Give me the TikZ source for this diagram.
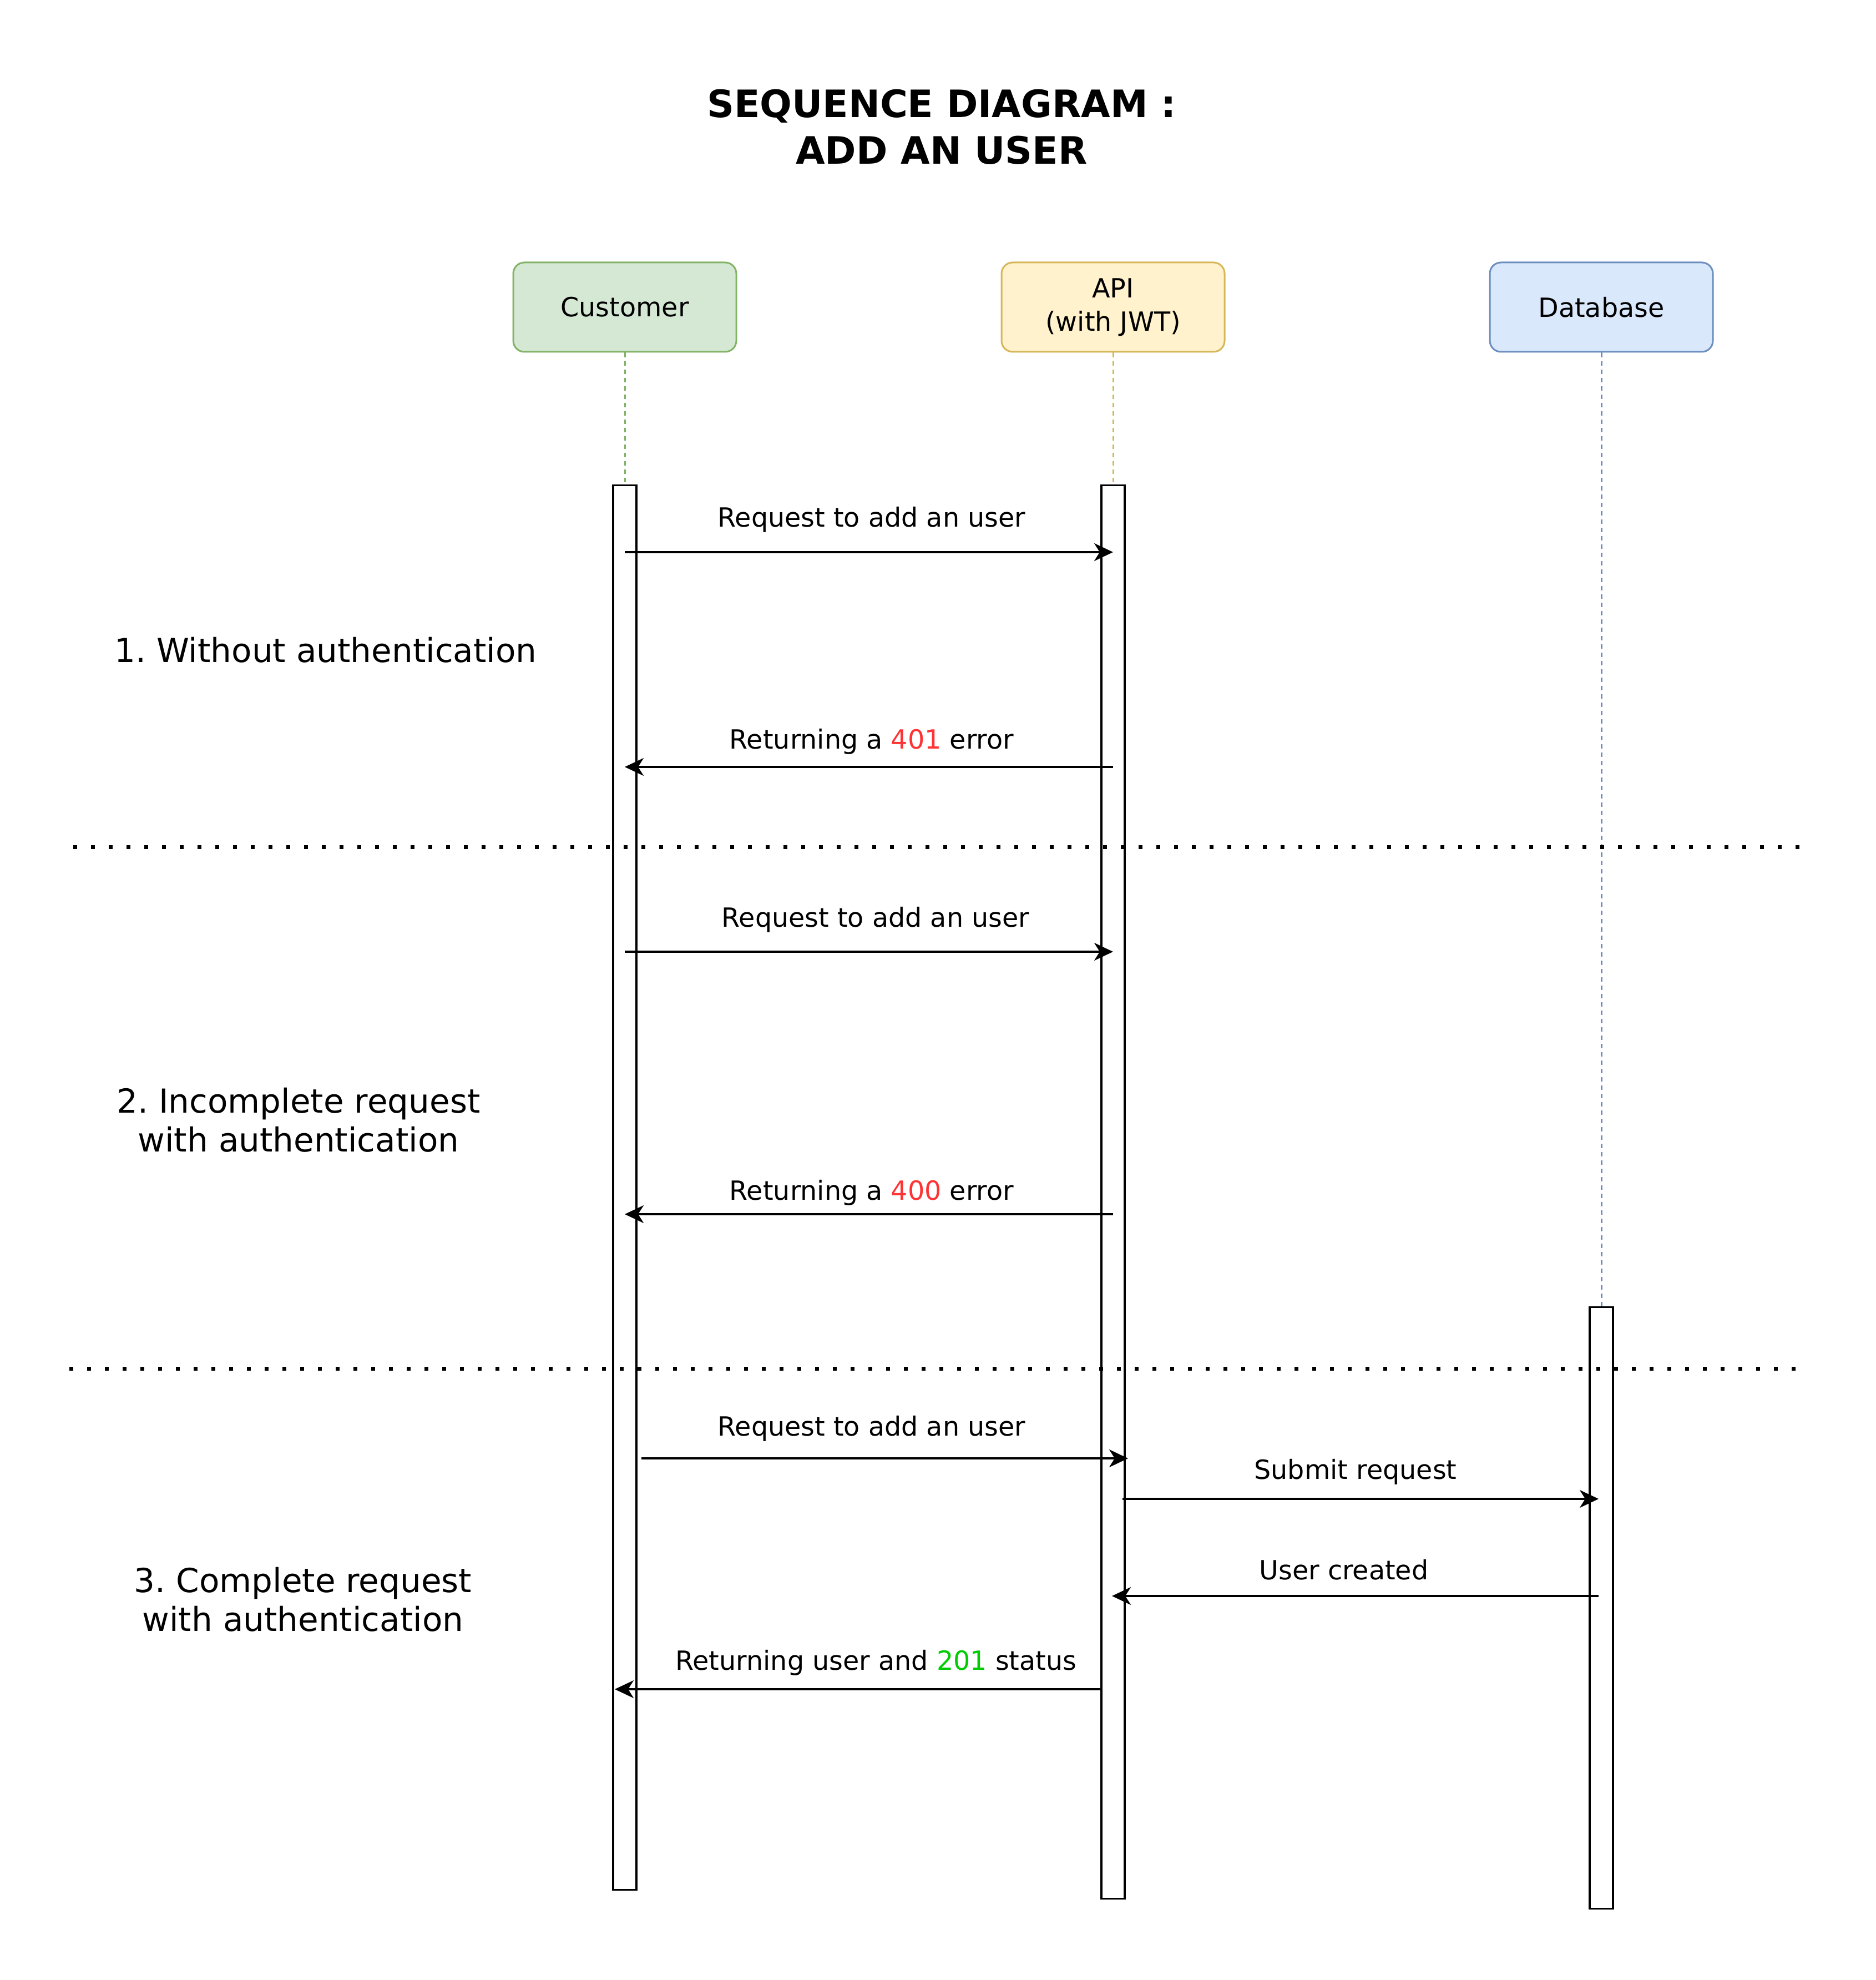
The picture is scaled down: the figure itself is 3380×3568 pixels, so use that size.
\documentclass[tikz,border=0pt]{standalone}
\usepackage{fontspec}
\setmainfont{DejaVu Sans}
\usepackage{tikz}
\usetikzlibrary{arrows.meta}
\frenchspacing
\definecolor{custfill}{HTML}{D5E8D4}
\definecolor{custline}{HTML}{82B366}
\definecolor{apifill}{HTML}{FFF2CC}
\definecolor{apiline}{HTML}{D6B656}
\definecolor{dbfill}{HTML}{DAE8FC}
\definecolor{dbline}{HTML}{6C8EBF}
\definecolor{errred}{HTML}{FF3333}
\definecolor{okgreen}{HTML}{00CC00}
\tikzset{lbl/.style={font=\fontsize{23.8}{30}\selectfont, anchor=base, inner sep=0pt}}
\tikzset{sec/.style={font=\fontsize{29.8}{35}\selectfont, align=center, anchor=base, inner sep=0pt}}
\tikzset{actor/.style={draw, rounded corners=10pt, line width=1.5pt, minimum width=201pt,
    minimum height=80.5pt, align=center, inner sep=0pt, font=\fontsize{23.8}{30}\selectfont}}
\tikzset{bar/.style={draw, fill=white, line width=1.6pt, minimum width=21pt, anchor=north, inner sep=0pt}}
\tikzset{life/.style={line width=1.5pt, dash pattern=on 4pt off 3.5pt}}
\tikzset{msg/.style={line width=1.6pt, -{Stealth[length=17pt,width=16pt,inset=5pt]}}}
\tikzset{sep/.style={line width=3.5pt, dash pattern=on 3.5pt off 12.5pt}}

\begin{document}
\begin{tikzpicture}[x=0.5pt, y=-0.5pt]
  \useasboundingbox (0,0) rectangle (3380,3568);
  % title
  \node[sec, font=\fontsize{34}{42}\selectfont\bfseries] (title) at (1697,296)
    {SEQUENCE DIAGRAM :\\ADD AN USER};
  % actors and lifelines
  \node[actor, fill=custfill, draw=custline] (cust) at (1126,553.5) {Customer};
  \node[actor, fill=apifill, draw=apiline] (api) at (2006,553.5) {API\\(with JWT)};
  \node[actor, fill=dbfill, draw=dbline] (db) at (2886,553.5) {Database};
  \node[bar, minimum height=1265.5pt] (cbar) at (1126,873) {};
  \node[bar, minimum height=1273.5pt] (abar) at (2006,873) {};
  \node[bar, minimum height=542pt] (dbar) at (2886,2354) {};
  \draw[life, custline] (cust.south) -- (cbar.north);
  \draw[life, apiline] (api.south) -- (abar.north);
  \draw[life, dbline] (db.south) -- (dbar.north);
  % sections
  \node[sec] (s1) at (587,1193) {1. Without authentication};
  \node[sec] (s2) at (538,2075) {2. Incomplete request\\with authentication};
  \node[sec] (s3) at (546,2939) {3. Complete request\\with authentication};
  % messages
  \coordinate (c1) at (1126,995);  \coordinate (a1) at (2006,995);
  \coordinate (a2) at (2006,1382); \coordinate (c2) at (1126,1382);
  \coordinate (c3) at (1126,1715); \coordinate (a3) at (2006,1715);
  \coordinate (a4) at (2006,2188); \coordinate (c4) at (1126,2188);
  \coordinate (c5) at (1156,2628); \coordinate (a5) at (2033,2628);
  \coordinate (a6) at (2023,2701); \coordinate (d6) at (2881,2701);
  \coordinate (d7) at (2881,2876); \coordinate (a7) at (2004,2876);
  \coordinate (a8) at (1986,3044); \coordinate (c8) at (1108,3044);
  \draw[msg] (c1) -- (a1);
  \draw[msg] (a2) -- (c2);
  \draw[msg] (c3) -- (a3);
  \draw[msg] (a4) -- (c4);
  \draw[msg] (c5) -- (a5);
  \draw[msg] (a6) -- (d6);
  \draw[msg] (d7) -- (a7);
  \draw[msg] (a8) -- (c8);
  \node[lbl] (t1) at (1571,949) {Request to add an user};
  \node[lbl] (t2) at (1571,1349) {Returning a \textcolor{errred}{401} error};
  \node[lbl] (t3) at (1578,1670) {Request to add an user};
  \node[lbl] (t4) at (1571,2162) {Returning a \textcolor{errred}{400} error};
  \node[lbl] (t5) at (1571,2587) {Request to add an user};
  \node[lbl] (t6) at (2443,2665) {Submit request};
  \node[lbl] (t7) at (2422,2846) {User created};
  \node[lbl] (t8) at (1579,3009) {Returning user and \textcolor{okgreen}{201} status};
  % separators
  \draw[sep] (132,1526) -- (3245,1526);
  \draw[sep] (125,2466) -- (3245,2466);
\end{tikzpicture}
\end{document}
